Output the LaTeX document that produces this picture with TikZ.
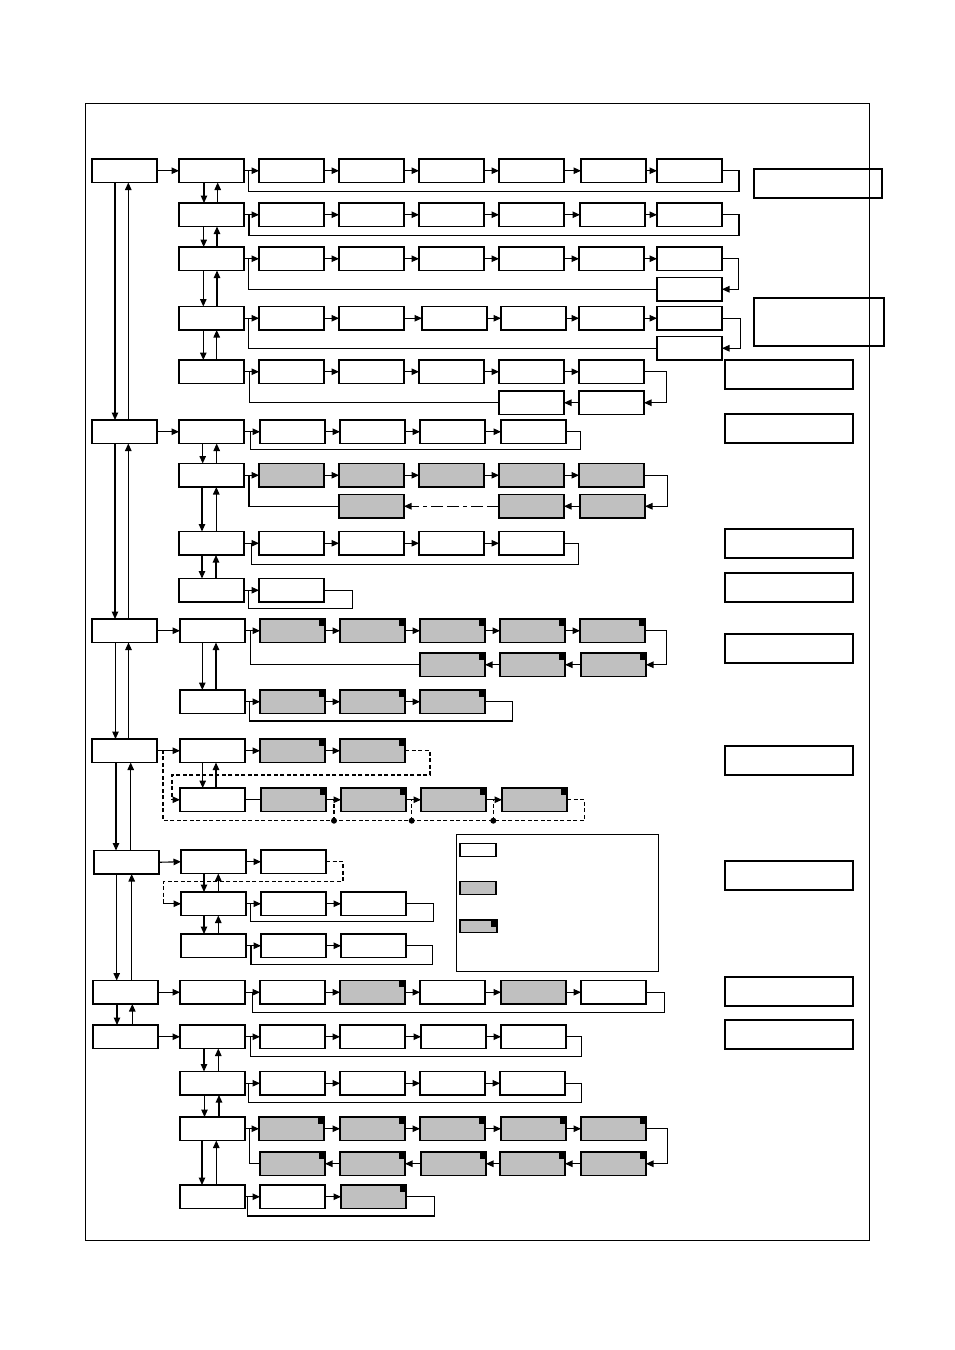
\documentclass[tikz,border=0pt]{standalone}
\usetikzlibrary{arrows.meta}
\definecolor{boxgray}{HTML}{C0C0C0}
\tikzset{
  bx/.style={draw, line width=1.2pt, minimum width=65pt, minimum height=23.5pt, inner sep=0pt, outer sep=0pt, anchor=north west},
  gb/.style={bx, fill=boxgray},
  gc/.style={gb, path picture={\fill[black] ([xshift=-6.5pt,yshift=-6.5pt]path picture bounding box.north east) rectangle (path picture bounding box.north east);}},
  rb/.style={draw, line width=1.2pt, minimum width=128pt, minimum height=29pt, inner sep=0pt, outer sep=0pt, anchor=north west},
  ln/.style={line width=1.1pt},
  arr/.style={ln, -{Triangle[length=7.5pt,width=6.5pt]}},
  dsh/.style={line width=1.3pt, dash pattern=on 4pt off 2.5pt},
  dshdot/.style={line width=1.1pt, dash pattern=on 12pt off 4pt on 12pt off 4pt on 4pt off 4pt},
}
\newcommand\bxW[3]{\node[bx] (#1) at (#2,#3) {};}
\newcommand\bxG[3]{\node[gb] (#1) at (#2,#3) {};}
\newcommand\bxC[3]{\node[gc] (#1) at (#2,#3) {};}
\newcommand\UpDn[4]{%
  \draw[arr] ([xshift=#3]#1.south west) -- ([xshift=#3]#2.north west);
  \draw[arr] ([xshift=#4]#2.north west) -- ([xshift=#4]#1.south west);}
\begin{document}
\begin{tikzpicture}[x=1pt,y=-1pt]
\useasboundingbox (0,0) rectangle (954,1350);
\draw[line width=0.8pt] (85,103) rectangle (869,1240);

% ---------------- main column
\bxW{M1}{92}{159}
\bxW{M2}{92}{420}
\bxW{M3}{92}{619}
\bxW{M4}{92}{739}
\bxW{M5}{94}{850.5}
\bxW{M6}{93}{980.5}
\bxW{M7}{93}{1025}
\draw[arr] ([xshift=23pt]M1.south west) -- ([xshift=23pt]M2.north west);
\draw[arr] ([xshift=36.3pt]M2.north west) -- ([xshift=36.3pt]M1.south west);
\draw[arr] ([xshift=23pt]M2.south west) -- ([xshift=23pt]M3.north west);
\draw[arr] ([xshift=36.3pt]M3.north west) -- ([xshift=36.3pt]M2.south west);
\draw[arr] ([xshift=23.5pt]M3.south west) -- ([xshift=23.5pt]M4.north west);
\draw[arr] ([xshift=36.5pt]M4.north west) -- ([xshift=36.5pt]M3.south west);
\draw[arr] ([xshift=24pt]M4.south west) -- ([xshift=22pt]M5.north west);
\draw[arr] ([xshift=36.7pt]M5.north west) -- ([xshift=38.7pt]M4.south west);
\draw[arr] ([xshift=22.7pt]M5.south west) -- ([xshift=23.7pt]M6.north west);
\draw[arr] ([xshift=38.7pt]M6.north west) -- ([xshift=37.7pt]M5.south west);
\draw[arr] ([xshift=24pt]M6.south west) -- ([xshift=24pt]M7.north west);
\draw[arr] ([xshift=39.3pt]M7.north west) -- ([xshift=39.3pt]M6.south west);

% ---------------- group 1
\bxW{S11}{179}{159}
\bxW{S12}{179}{203}
\bxW{S13}{179}{247}
\bxW{S14}{179}{306.5}
\bxW{S15}{179}{360}
\draw[arr] (M1.east) -- (S11.west);
\UpDn{S11}{S12}{25pt}{38.7pt}
\UpDn{S12}{S13}{24.7pt}{38pt}
\UpDn{S13}{S14}{24.3pt}{38pt}
\UpDn{S14}{S15}{24.3pt}{37.7pt}
% row 1
\bxW{a11}{259}{159}\bxW{a12}{339}{159}\bxW{a13}{419}{159}\bxW{a14}{499}{159}\bxW{a15}{581}{159}\bxW{a16}{657}{159}
\draw[arr] (S11.east) -- (a11.west);
\draw[arr] (a11.east) -- (a12.west);\draw[arr] (a12.east) -- (a13.west);\draw[arr] (a13.east) -- (a14.west);\draw[arr] (a14.east) -- (a15.west);\draw[arr] (a15.east) -- (a16.west);
\coordinate (J11) at (248.7,170.75);
\draw[ln] (a16.east) -| (739,191.5) -| (J11);
% row 2
\bxW{a21}{259}{203}\bxW{a22}{339}{203}\bxW{a23}{419}{203}\bxW{a24}{499}{203}\bxW{a25}{580}{203}\bxW{a26}{657}{203}
\draw[arr] (S12.east) -- (a21.west);
\draw[arr] (a21.east) -- (a22.west);\draw[arr] (a22.east) -- (a23.west);\draw[arr] (a23.east) -- (a24.west);\draw[arr] (a24.east) -- (a25.west);\draw[arr] (a25.east) -- (a26.west);
\coordinate (J12) at (249,214.75);
\draw[ln] (a26.east) -| (739,235.3) -| (J12);
% row 3
\bxW{a31}{259}{247}\bxW{a32}{339}{247}\bxW{a33}{419}{247}\bxW{a34}{499}{247}\bxW{a35}{579}{247}\bxW{a36}{657}{247}
\bxW{a37}{657}{277.5}
\draw[arr] (S13.east) -- (a31.west);
\draw[arr] (a31.east) -- (a32.west);\draw[arr] (a32.east) -- (a33.west);\draw[arr] (a33.east) -- (a34.west);\draw[arr] (a34.east) -- (a35.west);\draw[arr] (a35.east) -- (a36.west);
\draw[arr] (a36.east) -- (738.3,258.75) |- (a37.east);
\coordinate (J13) at (248.7,258.75);
\draw[ln] (a37.west) -| (J13);
% row 4
\bxW{a41}{259}{306.5}\bxW{a42}{339}{306.5}\bxW{a43}{422}{306.5}\bxW{a44}{501}{306.5}\bxW{a45}{579}{306.5}\bxW{a46}{657}{306.5}
\bxW{a47}{657}{336.5}
\draw[arr] (S14.east) -- (a41.west);
\draw[arr] (a41.east) -- (a42.west);\draw[arr] (a42.east) -- (a43.west);\draw[arr] (a43.east) -- (a44.west);\draw[arr] (a44.east) -- (a45.west);\draw[arr] (a45.east) -- (a46.west);
\draw[arr] (a46.east) -- (740.3,318.25) |- (a47.east);
\coordinate (J14) at (248.7,318.25);
\draw[ln] (a47.west) -| (J14);
% row 5
\bxW{a51}{259}{360}\bxW{a52}{339}{360}\bxW{a53}{419}{360}\bxW{a54}{499}{360}\bxW{a55}{579}{360}
\bxW{a56}{579}{391}\bxW{a57}{499}{391}
\draw[arr] (S15.east) -- (a51.west);
\draw[arr] (a51.east) -- (a52.west);\draw[arr] (a52.east) -- (a53.west);\draw[arr] (a53.east) -- (a54.west);\draw[arr] (a54.east) -- (a55.west);
\draw[arr] (a55.east) -- (666.3,371.75) |- (a56.east);
\draw[arr] (a56.west) -- (a57.east);
\coordinate (J15) at (249.5,371.75);
\draw[ln] (a57.west) -| (J15);
% right boxes
\node[rb] (R1) at (754,169) {};
\node[rb, minimum width=130pt, minimum height=48pt] (R2) at (754,298) {};
\node[rb] (R3) at (725,360) {};
\node[rb] (R4) at (725,414) {};

% ---------------- group 2
\bxW{S21}{179}{420}
\bxW{S22}{179}{463.5}
\bxW{S23}{179}{531.5}
\bxW{S24}{179}{578.5}
\draw[arr] (M2.east) -- (S21.west);
\UpDn{S21}{S22}{23.7pt}{37.7pt}
\UpDn{S22}{S23}{23pt}{37.3pt}
\UpDn{S23}{S24}{23pt}{37pt}
% row 1
\bxW{b11}{260}{420}\bxW{b12}{340}{420}\bxW{b13}{420}{420}\bxW{b14}{501}{420}
\draw[arr] (S21.east) -- (b11.west);
\draw[arr] (b11.east) -- (b12.west);\draw[arr] (b12.east) -- (b13.west);\draw[arr] (b13.east) -- (b14.west);
\coordinate (J21) at (250.3,431.75);
\draw[ln] (b14.east) -| (580.3,449.3) -| (J21);
% row 2
\bxG{b21}{259}{463.5}\bxG{b22}{339}{463.5}\bxG{b23}{419}{463.5}\bxG{b24}{499}{463.5}\bxG{b25}{579}{463.5}
\bxG{b26}{580}{494.5}\bxG{b27}{499}{494.5}\bxG{b28}{339}{494.5}
\draw[arr] (S22.east) -- (b21.west);
\draw[arr] (b21.east) -- (b22.west);\draw[arr] (b22.east) -- (b23.west);\draw[arr] (b23.east) -- (b24.west);\draw[arr] (b24.east) -- (b25.west);
\draw[arr] (b25.east) -- (667.3,475.25) |- (b26.east);
\draw[arr] (b26.west) -- (b27.east);
\draw[dshdot, -{Triangle[length=7.5pt,width=6.5pt]}] (b27.west) -- (b28.east);
\coordinate (J22) at (249,475.25);
\draw[ln] (b28.west) -| (J22);
% row 3
\bxW{b31}{259}{531.5}\bxW{b32}{339}{531.5}\bxW{b33}{419}{531.5}\bxW{b34}{499}{531.5}
\draw[arr] (S23.east) -- (b31.west);
\draw[arr] (b31.east) -- (b32.west);\draw[arr] (b32.east) -- (b33.west);\draw[arr] (b33.east) -- (b34.west);
\coordinate (J23) at (251.3,543.25);
\draw[ln] (b34.east) -| (578.7,564.3) -| (J23);
% row 4
\bxW{b41}{259}{578.5}
\draw[arr] (S24.east) -- (b41.west);
\coordinate (J24) at (248.3,590.25);
\draw[ln] (b41.east) -| (352.3,608.3) -| (J24);
\node[rb] (R5) at (725,529) {};
\node[rb] (R6) at (725,573) {};

% ---------------- group 3
\bxW{S31}{180}{619}
\bxW{S32}{180}{690}
\draw[arr] (M3.east) -- (S31.west);
\UpDn{S31}{S32}{22.3pt}{36pt}
\bxC{c11}{260}{619}\bxC{c12}{340}{619}\bxC{c13}{420}{619}\bxC{c14}{500}{619}\bxC{c15}{580}{619}
\bxC{c16}{581}{653}\bxC{c17}{500}{653}\bxC{c18}{420}{653}
\draw[arr] (S31.east) -- (c11.west);
\draw[arr] (c11.east) -- (c12.west);\draw[arr] (c12.east) -- (c13.west);\draw[arr] (c13.east) -- (c14.west);\draw[arr] (c14.east) -- (c15.west);
\draw[arr] (c15.east) -- (666.3,630.75) |- (c16.east);
\draw[arr] (c16.west) -- (c17.east);
\draw[arr] (c17.west) -- (c18.east);
\coordinate (J31) at (250.3,630.75);
\draw[ln] (c18.west) -| (J31);
\bxC{c21}{260}{690}\bxC{c22}{340}{690}\bxC{c23}{420}{690}
\draw[arr] (S32.east) -- (c21.west);
\draw[arr] (c21.east) -- (c22.west);\draw[arr] (c22.east) -- (c23.west);
\coordinate (J32) at (249.7,701.75);
\draw[ln] (c23.east) -| (512.3,721) -| (J32);
\node[rb] (R7) at (725,634) {};

% ---------------- group 4
\bxW{S41}{180}{739}
\bxW{S42}{180}{788}
\draw[arr] (M4.east) -- (S41.west);
\UpDn{S41}{S42}{22.7pt}{36pt}
\bxC{d11}{260}{739}\bxC{d12}{340}{739}
\draw[arr] (S41.east) -- (d11.west);
\draw[arr] (d11.east) -- (d12.west);
\draw[dsh] (d12.east) -| (430,775) -| (172,799.75);
\coordinate (K41) at (172,799.75);
\draw[arr] (K41) -- (S42.west);
\bxC{d21}{261}{788}\bxC{d22}{341}{788}\bxC{d23}{421}{788}\bxC{d24}{502}{788}
\draw[ln] (S42.east) -- (d21.west);
\draw[arr] (d21.east) -- (d22.west);\draw[arr] (d22.east) -- (d23.west);\draw[arr] (d23.east) -- (d24.west);
\coordinate (J41) at (163,750.75);
\draw[dsh] (d24.east) -| (584.3,820.7) -| (J41);
\coordinate (P1) at (334,820.7);
\coordinate (P2) at (411.7,820.7);
\coordinate (P3) at (493.3,820.7);
\foreach \p in {P1,P2,P3}{
  \draw[dsh] (\p) -- (\p |- d21.east);
  \fill (\p) circle (3pt);
}
\node[rb] (R8) at (725,746) {};

% ---------------- group 5
\bxW{S51}{181}{850}
\bxW{S52}{181}{892}
\bxW{S53}{181}{934}
\draw[arr] (M5.east) -- (S51.west);
\UpDn{S51}{S52}{23pt}{37.3pt}
\UpDn{S52}{S53}{23pt}{37.3pt}
\bxW{e11}{261}{850}
\draw[arr] (S51.east) -- (e11.west);
\draw[dsh] (e11.east) -| (343,881.7) -| (163.3,903.75);
\coordinate (K51) at (163.3,903.75);
\draw[arr] (K51) -- (S52.west);
\bxW{e21}{261}{892}\bxW{e22}{341}{892}
\draw[arr] (S52.east) -- (e21.west);
\draw[arr] (e21.east) -- (e22.west);
\coordinate (J52) at (250.3,903.75);
\draw[ln] (e22.east) -| (433.3,921.3) -| (J52);
\bxW{e31}{261}{934}\bxW{e32}{341}{934}
\draw[arr] (S53.east) -- (e31.west);
\draw[arr] (e31.east) -- (e32.west);
\coordinate (J53) at (251,945.75);
\draw[ln] (e32.east) -| (432.3,964.3) -| (J53);
% legend
\node[draw, line width=1.3pt, minimum width=202pt, minimum height=137pt, inner sep=0pt, anchor=north west] (LG) at (456,834) {};
\node[bx, minimum width=36pt, minimum height=13pt] (LW) at (460,843.5) {};
\node[gb, minimum width=36pt, minimum height=13pt] (LGr) at (460,881.5) {};
\node[gc, minimum width=37pt, minimum height=12.5pt] (LC) at (460,920) {};
\node[rb] (R9) at (725,861) {};

% ---------------- group 6
\bxW{S61}{180}{980.5}
\draw[arr] (M6.east) -- (S61.west);
\bxW{f11}{260}{980.5}\bxC{f12}{340}{980.5}\bxW{f13}{420}{980.5}\bxG{f14}{501}{980.5}\bxW{f15}{581}{980.5}
\draw[arr] (S61.east) -- (f11.west);
\draw[arr] (f11.east) -- (f12.west);\draw[arr] (f12.east) -- (f13.west);\draw[arr] (f13.east) -- (f14.west);\draw[arr] (f14.east) -- (f15.west);
\coordinate (J61) at (252.3,992.25);
\draw[ln] (f15.east) -| (664.3,1012.7) -| (J61);
\node[rb] (R10) at (725,977) {};

% ---------------- group 7
\bxW{S71}{180}{1025}
\bxW{S72}{180}{1071.5}
\bxW{S73}{180}{1117}
\bxW{S74}{180}{1185}
\draw[arr] (M7.east) -- (S71.west);
\UpDn{S71}{S72}{24pt}{38.3pt}
\UpDn{S72}{S73}{24.5pt}{39pt}
\UpDn{S73}{S74}{22pt}{36.3pt}
\bxW{g11}{260}{1025}\bxW{g12}{340}{1025}\bxW{g13}{421}{1025}\bxW{g14}{501}{1025}
\draw[arr] (S71.east) -- (g11.west);
\draw[arr] (g11.east) -- (g12.west);\draw[arr] (g12.east) -- (g13.west);\draw[arr] (g13.east) -- (g14.west);
\coordinate (J71) at (250.3,1036.75);
\draw[ln] (g14.east) -| (581.3,1056.3) -| (J71);
\bxW{g21}{260}{1071.5}\bxW{g22}{340}{1071.5}\bxW{g23}{420}{1071.5}\bxW{g24}{500}{1071.5}
\draw[arr] (S72.east) -- (g21.west);
\draw[arr] (g21.east) -- (g22.west);\draw[arr] (g22.east) -- (g23.west);\draw[arr] (g23.east) -- (g24.west);
\coordinate (J72) at (248.3,1083.25);
\draw[ln] (g24.east) -| (581.3,1102.3) -| (J72);
\bxC{g31}{259}{1117}\bxC{g32}{340}{1117}\bxC{g33}{420}{1117}\bxC{g34}{501}{1117}\bxC{g35}{581}{1117}
\bxC{g36}{581}{1152}\bxC{g37}{500}{1152}\bxC{g38}{421}{1152}\bxC{g39}{340}{1152}\bxC{g30}{260}{1152}
\draw[arr] (S73.east) -- (g31.west);
\draw[arr] (g31.east) -- (g32.west);\draw[arr] (g32.east) -- (g33.west);\draw[arr] (g33.east) -- (g34.west);\draw[arr] (g34.east) -- (g35.west);
\draw[arr] (g35.east) -- (667.3,1128.75) |- (g36.east);
\draw[arr] (g36.west) -- (g37.east);\draw[arr] (g37.west) -- (g38.east);\draw[arr] (g38.west) -- (g39.east);\draw[arr] (g39.west) -- (g30.east);
\coordinate (J73) at (249.7,1128.75);
\draw[ln] (g30.west) -| (J73);
\bxW{g41}{260}{1185}\bxC{g42}{341}{1185}
\draw[arr] (S74.east) -- (g41.west);
\draw[arr] (g41.east) -- (g42.west);
\coordinate (J74) at (247.3,1196.75);
\draw[ln] (g42.east) -| (434.3,1216) -| (J74);
\node[rb] (R11) at (725,1020) {};
\end{tikzpicture}
\end{document}
